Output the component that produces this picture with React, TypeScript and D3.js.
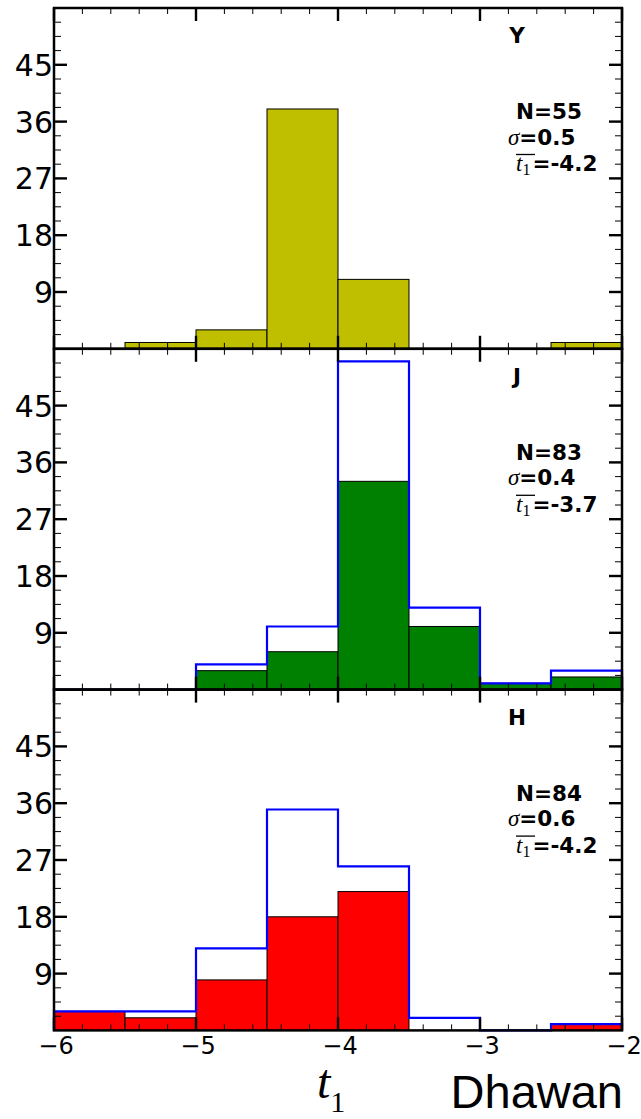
import React from "react";
import * as d3 from "d3";

// Histogram bin edges of t1 (width 0.5)
const binEdges = [-6, -5.5, -5, -4.5, -4, -3.5, -3, -2.5, -2];

// Filled histogram counts per band
const countsY = [0, 1, 3, 38, 11, 0, 0, 1];
const countsJ = [0, 0, 3, 6, 33, 10, 1, 2];
const countsH = [3, 2, 8, 18, 22, 0, 0, 1];

// Step outline counts (full sample)
const outlineJ = [0, 0, 4, 10, 52, 13, 1, 3];
const outlineH = [3, 3, 13, 35, 26, 2, 0, 1];

const bandNames = ["Y", "J", "H"];
const bandColors = ["#bfbf00", "#008000", "#ff0000"];
const statN = ["55", "83", "84"];
const statSigma = ["0.5", "0.4", "0.6"];
const statMean = ["-4.2", "-3.7", "-4.2"];

const xTicks = [-6, -5, -4, -3, -2];
const yTicks = [9, 18, 27, 36, 45];

const W = 641;
const H = 1119;
const left = 54;
const right = 622;
const firstTop = 8;
const panelH = 340.8;

const x = d3.scaleLinear().domain([-6, -2]).range([left, right]);

const xMinor = d3.range(-6, -2.0001, 0.2).map((v) => +v.toFixed(2));
const yMinor = d3.range(0, 54.001, 2.25);

function Panel({ index }: { index: number }) {
  const top = firstTop + index * panelH;
  const bottom = top + panelH;
  const y = d3.scaleLinear().domain([0, 54]).range([bottom, top]);
  const counts = [countsY, countsJ, countsH][index];
  const outline = [null, outlineJ, outlineH][index];

  let stepPath: string | null = null;
  if (outline) {
    const pts: [number, number][] = [[binEdges[0], 0]];
    outline.forEach((c, i) => {
      pts.push([binEdges[i], c]);
      pts.push([binEdges[i + 1], c]);
    });
    pts.push([binEdges[binEdges.length - 1], 0]);
    stepPath = d3
      .line<[number, number]>()
      .x((d) => x(d[0]))
      .y((d) => y(d[1]))(pts);
  }

  const bold = { fontFamily: "DejaVu Sans", fontWeight: "bold", fontSize: 21.5 } as const;
  const serifIt = { fontFamily: "Liberation Serif", fontStyle: "italic", fontWeight: "normal" } as const;

  return (
    <g>
      {counts.map((c, i) =>
        c > 0 ? (
          <rect
            key={i}
            x={x(binEdges[i])}
            y={y(c)}
            width={x(binEdges[i + 1]) - x(binEdges[i])}
            height={y(0) - y(c)}
            fill={bandColors[index]}
            stroke="#000"
            strokeWidth={1}
          />
        ) : null
      )}
      {stepPath && (
        <path d={stepPath} fill="none" stroke="#0000ff" strokeWidth={2.2} strokeLinejoin="miter" />
      )}

      {/* minor ticks */}
      {xMinor.map((v, i) => (
        <g key={"xm" + i} stroke="#000" strokeWidth={1}>
          <line x1={x(v)} x2={x(v)} y1={bottom} y2={bottom - 6} />
          <line x1={x(v)} x2={x(v)} y1={top} y2={top + 6} />
        </g>
      ))}
      {yMinor.map((v, i) => (
        <g key={"ym" + i} stroke="#000" strokeWidth={1}>
          <line x1={left} x2={left + 7} y1={y(v)} y2={y(v)} />
          <line x1={right} x2={right - 7} y1={y(v)} y2={y(v)} />
        </g>
      ))}
      {/* major ticks */}
      {xTicks.map((v) => (
        <g key={"xM" + v} stroke="#000" strokeWidth={2.4}>
          <line x1={x(v)} x2={x(v)} y1={bottom} y2={bottom - 13} />
          <line x1={x(v)} x2={x(v)} y1={top} y2={top + 13} />
        </g>
      ))}
      {yTicks.map((v) => (
        <g key={"yM" + v} stroke="#000" strokeWidth={2.4}>
          <line x1={left} x2={left + 13} y1={y(v)} y2={y(v)} />
          <line x1={right} x2={right - 13} y1={y(v)} y2={y(v)} />
        </g>
      ))}
      <rect
        x={left}
        y={top}
        width={right - left}
        height={panelH}
        fill="none"
        stroke="#000"
        strokeWidth={2.5}
      />

      {/* y tick labels */}
      {yTicks.map((v) => (
        <text
          key={"yl" + v}
          x={left - 1}
          y={y(v) + 11}
          textAnchor="end"
          fontFamily="DejaVu Sans"
          fontSize={30}
          fill="#000"
        >
          {v}
        </text>
      ))}

      {/* band name and statistics */}
      <text x={517} y={top + 35.3} textAnchor="middle" {...bold}>
        {bandNames[index]}
      </text>
      <text x={516} y={top + 111} {...bold}>
        N={statN[index]}
      </text>
      <text x={508} y={top + 136.5} {...bold}>
        <tspan {...serifIt} fontSize={23}>σ</tspan>
        <tspan>={statSigma[index]}</tspan>
      </text>
      <text x={516} y={top + 163} {...bold}>
        <tspan {...serifIt} fontSize={23}>t</tspan>
        <tspan fontFamily="Liberation Serif" fontWeight="normal" fontSize={16} dy={4}>
          1
        </tspan>
        <tspan dy={-4} dx={2}>={statMean[index]}</tspan>
      </text>
      <line x1={516} x2={535} y1={top + 146.5} y2={top + 146.5} stroke="#000" strokeWidth={1.3} />
    </g>
  );
}

export default function App() {
  const lastBottom = firstTop + 3 * panelH;
  return (
    <svg
      width={W}
      height={H}
      style={{ position: "absolute", left: 0, top: 0, background: "#fff" }}
    >
      <rect x={0} y={0} width={W} height={H} fill="#fff" />
      {[0, 1, 2].map((i) => (
        <Panel key={i} index={i} />
      ))}
      {xTicks.map((v) => (
        <text
          key={"xl" + v}
          x={x(v) + 2}
          y={lastBottom + 24}
          textAnchor="middle"
          fontFamily="DejaVu Sans"
          fontSize={24}
          fill="#000"
        >
          {"\u2212" + Math.abs(v)}
        </text>
      ))}
      <text x={317} y={1098} fontFamily="Liberation Serif" fontStyle="italic" fontSize={48} fill="#000">
        t
        <tspan fontStyle="normal" fontSize={30} dy={14}>
          1
        </tspan>
      </text>
      <text x={623} y={1108} textAnchor="end" fontFamily="Liberation Sans" fontSize={47} fill="#000">
        Dhawan
      </text>
    </svg>
  );
}
